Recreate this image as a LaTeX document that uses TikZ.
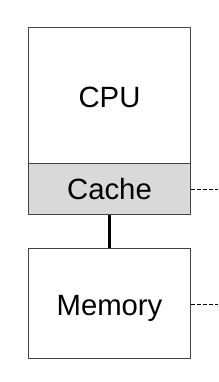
\documentclass[tikz,border=0pt]{standalone}
\usepackage{fontspec}
\setmainfont{Liberation Sans}
\definecolor{boxline}{HTML}{444444}
\definecolor{cachefill}{HTML}{D9D9D9}
\begin{document}
\begin{tikzpicture}[x=1pt,y=-1pt,
  unit/.style={draw=boxline,line width=1pt,minimum width=162pt,inner sep=0pt,
    text height=24pt,text depth=0pt,
    font=\fontsize{29.3}{34}\selectfont},
  bus/.style={line width=3pt,black},
  link/.style={line width=1pt,black,dash pattern=on 4pt off 2pt}]
\useasboundingbox (0,0) rectangle (218,382);
\node[unit,minimum height=135.8pt] (cpu) at (109.5,95.4) {CPU};
\node[unit,fill=cachefill,minimum height=50.7pt,text height=21pt] (cache) at (109.5,188.65) {Cache};
\node[unit,minimum height=110.4pt] (memory) at (109.5,303.5) {Memory};
\coordinate (edge) at (218,0);
\draw[bus] (cache.south) -- (memory.north);
\draw[link] ([yshift=-1pt]cache.east) -- ([yshift=-1pt]cache.east -| edge);
\draw[link] ([yshift=-1pt]memory.east) -- ([yshift=-1pt]memory.east -| edge);
\end{tikzpicture}
\end{document}
